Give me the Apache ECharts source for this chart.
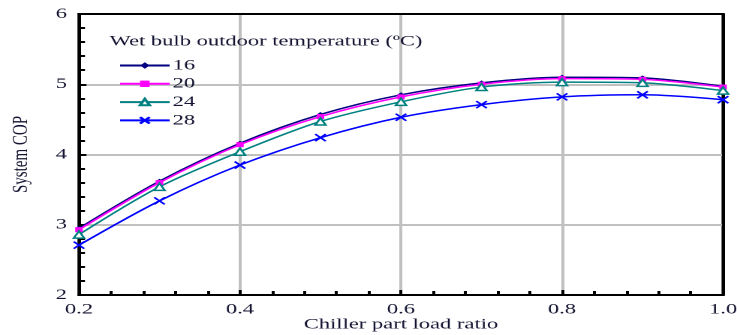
<!DOCTYPE html>
<html>
<head>
<meta charset="utf-8">
<script src="https://cdn.jsdelivr.net/npm/echarts@6/dist/echarts.min.js"></script>
<style>
html,body{margin:0;padding:0;background:#fff;overflow:hidden}
#wrap{width:737px;height:335px;overflow:hidden;position:relative}
#c{width:491px;height:335px;transform:scaleX(1.501);transform-origin:0 0}
</style>
</head>
<body>
<div id="wrap"><div id="c"></div></div>
<script>
const loadRatio = [0.2, 0.3, 0.4, 0.5, 0.6, 0.7, 0.8, 0.9, 1.0];
const seriesNames = ['16', '20', '24', '28'];
const cop16 = [2.95, 3.62, 4.16, 4.57, 4.85, 5.02, 5.10, 5.09, 4.97];
const cop20 = [2.93, 3.60, 4.14, 4.54, 4.82, 5.00, 5.08, 5.07, 4.96];
const cop24 = [2.86, 3.54, 4.04, 4.47, 4.75, 4.96, 5.03, 5.02, 4.91];
const cop28 = [2.71, 3.34, 3.85, 4.24, 4.53, 4.71, 4.82, 4.85, 4.78];
const legendTitle = 'Wet bulb outdoor temperature (ºC)';
const xName = 'Chiller part load ratio';
const yName = 'System COP';

const serif = 'Liberation Serif';
const txt = '#141432';
const pair = arr => loadRatio.map((x, i) => [x, arr[i]]);
const crossPath = 'path://M0,0L10,10M10,0L0,10';
const frameAxis = {
  show: true, gridIndex: 0,
  axisLine: {show: true, onZero: false, lineStyle: {color: '#000', width: 2}},
  axisTick: {show: false}, minorTick: {show: false}, axisLabel: {show: false}, splitLine: {show: false}
};

const chart = echarts.init(document.getElementById('c'), null, {renderer: 'canvas', devicePixelRatio: 2});
chart.setOption({
  animation: false,
  backgroundColor: '#fff',
  title: {
    text: legendTitle,
    left: 68, top: 29,
    textStyle: {fontFamily: serif, fontSize: 15, fontWeight: 'normal', color: txt}
  },
  legend: {
    orient: 'vertical',
    left: 74, top: 53,
    itemWidth: 33, itemHeight: 8, itemGap: 3.3,
    textStyle: {fontFamily: serif, fontSize: 15, color: txt, padding: [0,0,0,-3]},
    data: seriesNames
  },
  grid: {left: 52.6, right: 9.3, top: 14, bottom: 40, outerBoundsMode: 'none', containLabel: false,
    show: true, borderColor: '#000', borderWidth: 2},
  xAxis: [{
    type: 'value', min: 0.2, max: 1.0, interval: 0.2,
    name: xName, nameLocation: 'middle', nameGap: 22, nameMoveOverlap: false,
    nameTextStyle: {fontFamily: serif, fontSize: 15, fontWeight: 'normal', color: txt},
    axisLine: {onZero: false, lineStyle: {color: '#000', width: 2}},
    axisTick: {inside: true, length: 5, lineStyle: {color: '#000', width: 2}},
    minorTick: {show: true, splitNumber: 5, length: 4, lineStyle: {color: '#000', width: 2}},
    splitLine: {show: true, showMinLine: false, showMaxLine: false, lineStyle: {color: '#c0c0c0', width: 2}},
    axisLabel: {fontFamily: serif, fontSize: 15, color: txt, margin: 7,
      formatter: v => v.toFixed(1)}
  }, Object.assign({type: 'value', position: 'top', min: 0.2, max: 1.0, interval: 0.2}, frameAxis)],
  yAxis: [{
    type: 'value', min: 2, max: 6, interval: 1,
    name: yName, nameLocation: 'middle', nameGap: 31, nameRotate: 90, nameMoveOverlap: false,
    nameTextStyle: {fontFamily: serif, fontSize: 15, color: txt},
    axisLine: {onZero: false, lineStyle: {color: '#000', width: 2}},
    axisTick: {inside: true, length: 5, lineStyle: {color: '#000', width: 2}},
    minorTick: {show: true, splitNumber: 5, length: 4, lineStyle: {color: '#000', width: 2}},
    splitLine: {show: true, showMinLine: false, showMaxLine: false, lineStyle: {color: '#c0c0c0', width: 2}},
    axisLabel: {fontFamily: serif, fontSize: 15, color: txt, margin: 8}
  }, Object.assign({type: 'value', position: 'right', min: 2, max: 6, interval: 1}, frameAxis)],
  series: [
    {name: seriesNames[0], type: 'line', smooth: 0.3, data: pair(cop16),
      symbol: 'diamond', symbolSize: 5,
      lineStyle: {color: '#000080', width: 1.5}, itemStyle: {color: '#000080'}},
    {name: seriesNames[1], type: 'line', smooth: 0.3, data: pair(cop20),
      symbol: 'rect', symbolSize: 5,
      lineStyle: {color: '#ff00ff', width: 1.5}, itemStyle: {color: '#ff00ff'}},
    {name: seriesNames[2], type: 'line', smooth: 0.3, data: pair(cop24),
      symbol: 'triangle', symbolSize: 7,
      lineStyle: {color: '#008080', width: 1.5}, itemStyle: {color: '#fff', borderColor: '#008080', borderWidth: 1.5}},
    {name: seriesNames[3], type: 'line', smooth: 0.3, data: pair(cop28),
      symbol: crossPath, symbolSize: 7,
      lineStyle: {color: '#0000ff', width: 1.5}, itemStyle: {color: 'none', borderColor: '#0000ff', borderWidth: 1.5}}
  ]
});
</script>
</body>
</html>
